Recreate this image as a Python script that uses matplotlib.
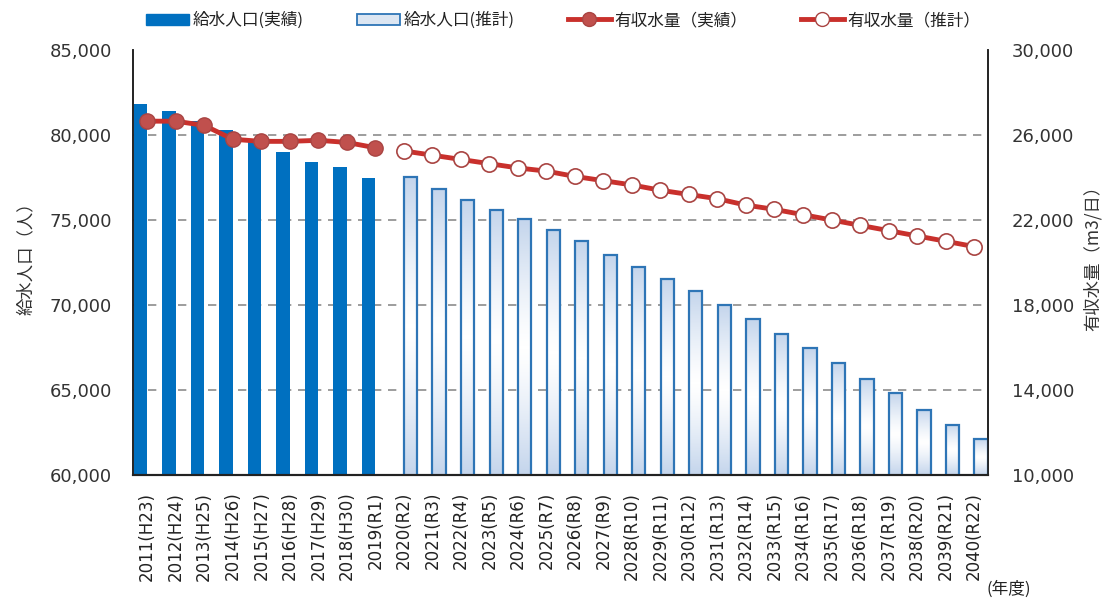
import numpy as np
import matplotlib
matplotlib.use("Agg")
import matplotlib.pyplot as plt
from matplotlib.patches import Rectangle
from matplotlib.lines import Line2D
from matplotlib.ticker import FuncFormatter, FixedLocator

plt.rcParams['font.family'] = ['DejaVu Sans', 'Noto Sans CJK JP']

years = ["2011(H23)", "2012(H24)", "2013(H25)", "2014(H26)", "2015(H27)",
         "2016(H28)", "2017(H29)", "2018(H30)", "2019(R1)", "2020(R2)",
         "2021(R3)", "2022(R4)", "2023(R5)", "2024(R6)", "2025(R7)",
         "2026(R8)", "2027(R9)", "2028(R10)", "2029(R11)", "2030(R12)",
         "2031(R13)", "2032(R14)", "2033(R15)", "2034(R16)", "2035(R17)",
         "2036(R18)", "2037(R19)", "2038(R20)", "2039(R21)", "2040(R22)"]

# 給水人口（人）: actual 2011-2019, projected 2020-2040
pop_actual = [81800, 81400, 80800, 80300, 79700, 79000, 78400, 78100, 77450]
pop_projected = [77500, 76850, 76200, 75600, 75050, 74400, 73750, 72950,
                 72250, 71550, 70800, 70000, 69150, 68300, 67450, 66600,
                 65650, 64800, 63850, 62950, 62100]

# 有収水量（m3/日）: actual 2011-2019, projected 2020-2040
water_actual = [26650, 26650, 26450, 25800, 25700, 25700, 25750, 25650, 25400]
water_projected = [25250, 25050, 24850, 24650, 24450, 24300, 24050, 23850,
                   23650, 23400, 23200, 23000, 22700, 22500, 22250, 22000,
                   21750, 21500, 21250, 21000, 20750]

left_ticks = [60000, 65000, 70000, 75000, 80000, 85000]
right_ticks = [10000, 14000, 18000, 22000, 26000, 30000]

legend_labels = ["給水人口(実績)", "給水人口(推計)", "有収水量（実績）", "有収水量（推計）"]

BAR_BLUE = "#0070c0"
EDGE_BLUE = "#2e75b6"
RED = "#c9302c"
MARKER_EDGE = "#a94442"
JP = ['Noto Sans CJK JP', 'DejaVu Sans']

n_act = len(pop_actual)
x_act = np.arange(n_act)
x_proj = np.arange(n_act, n_act + len(pop_projected))

fig = plt.figure(figsize=(11.08, 5.98), dpi=100)
ax = fig.add_axes([0.120, 0.2057, 0.772, 0.7107])
ax2 = ax.twinx()

bw = 0.47
off = 0.24

ax.set_xlim(-0.5, len(years) - 0.5)
ax.set_ylim(60000, 85000)
ax2.set_ylim(10000, 30000)

# grid lines (left-axis ticks)
for v in left_ticks[1:-1]:
    ax.axhline(v, color="#8c8c8c", lw=1.2, ls=(0, (5, 4)), zorder=0.5)

# actual population bars
ax.bar(x_act - off, pop_actual, width=bw, color=BAR_BLUE, zorder=2)

# projected population bars with a vertical gradient fill
grad = np.linspace(0, 1, 256)
shade = np.abs(grad - 0.5) * 2
cmap = matplotlib.colors.LinearSegmentedColormap.from_list(
    "g", ["#ffffff", "#c4d5ec"])
bars = ax.bar(x_proj + off, pop_projected, width=bw, facecolor="none",
              edgecolor=EDGE_BLUE, lw=1.6, zorder=3)
for b in bars:
    x0, y0 = b.get_x(), b.get_y()
    w, h = b.get_width(), b.get_height()
    im = ax.imshow(shade.reshape(-1, 1) ** 1.3, cmap=cmap, aspect="auto",
                   extent=(x0, x0 + w, 60000, y0 + h), origin="lower",
                   zorder=2, vmin=0, vmax=1)
    clip = Rectangle((x0, y0), w, h, transform=ax.transData)
    im.set_clip_path(clip)
ax.set_xlim(-0.5, len(years) - 0.5)
ax.set_ylim(60000, 85000)

# water volume lines
ax2.plot(x_act, water_actual, color=RED, lw=3.5, marker="o", ms=11,
         mfc="#c0504d", mec=MARKER_EDGE, mew=1.0, zorder=5)
ax2.plot(x_proj, water_projected, color=RED, lw=3.5, marker="o", ms=11,
         mfc="white", mec=MARKER_EDGE, mew=1.2, zorder=5)

ax.set_zorder(1)
ax2.set_zorder(2)
ax.patch.set_visible(False)

# axes styling
ax.set_xticks(np.arange(len(years)))
ax.set_xticklabels(years, rotation=90, fontsize=12, color="#222222")
ax.tick_params(axis="x", length=0, pad=12)
ax.yaxis.set_major_locator(FixedLocator(left_ticks))
ax2.yaxis.set_major_locator(FixedLocator(right_ticks))
fmt = FuncFormatter(lambda v, p: f"{int(v):,}")
ax.yaxis.set_major_formatter(fmt)
ax2.yaxis.set_major_formatter(fmt)
ax.tick_params(axis="y", length=0, pad=15, labelsize=13, labelcolor="#333333")
ax2.tick_params(axis="y", length=0, pad=17, labelsize=13, labelcolor="#333333")

for a in (ax, ax2):
    a.spines["top"].set_visible(False)
    a.spines["left"].set_color("#222222")
    a.spines["right"].set_color("#222222")
    a.spines["bottom"].set_color("#222222")
    a.spines["left"].set_linewidth(1.2)
    a.spines["right"].set_linewidth(1.2)
    a.spines["bottom"].set_linewidth(1.5)

# axis titles
fig.text(0.023, 0.575, "給水人口（人）", fontsize=12.5, color="#333333",
         family=JP, rotation=90, ha="center", va="center")
fig.text(0.986, 0.575, "有収水量（m3/日）", fontsize=12.5, color="#333333",
         family=JP, rotation=90, ha="center", va="center")

fig.text(0.890, 0.015, "(年度)", fontsize=12, color="#222222",
         ha="left", va="center", family=JP)

# legend
grad_patch = Rectangle((0, 0), 1, 1, facecolor="#dce6f2", edgecolor=EDGE_BLUE, lw=1.3)
handles = [
    Rectangle((0, 0), 1, 1, facecolor=BAR_BLUE, edgecolor=BAR_BLUE),
    grad_patch,
    Line2D([], [], color=RED, lw=3.5, marker="o", ms=10, mfc="#c0504d", mec=MARKER_EDGE),
    Line2D([], [], color=RED, lw=3.5, marker="o", ms=10, mfc="white", mec=MARKER_EDGE),
]
fig.legend(handles, legend_labels, loc="upper center", bbox_to_anchor=(0.508, 1.005),
           ncol=4, frameon=False, handlelength=2.6, handletextpad=0.2,
           columnspacing=3.2, labelcolor="#222222",
           prop={'family': JP, 'size': 12})

fig.savefig("out.png", dpi=100)
